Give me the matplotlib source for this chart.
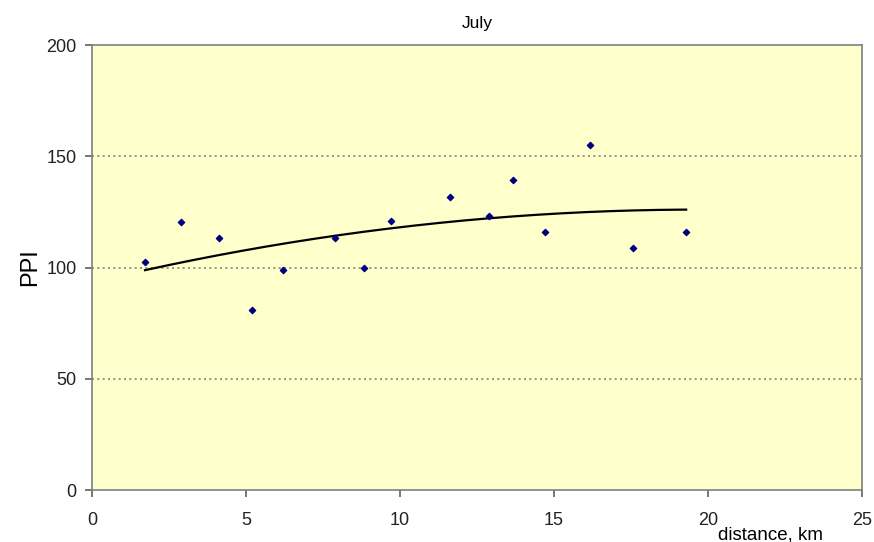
import numpy as np
import matplotlib
matplotlib.use("Agg")
import matplotlib.pyplot as plt

plt.rcParams["font.family"] = ["Liberation Sans", "DejaVu Sans"]

# July: PPI versus distance
distance = [1.72, 2.89, 4.12, 5.19, 6.20, 7.89, 8.83, 9.71, 11.62, 12.89,
            13.67, 14.71, 16.17, 17.56, 19.29]
ppi = [102.5, 120.4, 113.3, 80.9, 98.9, 113.3, 99.8, 120.9, 131.7, 123.1,
       139.3, 116.0, 155.0, 108.8, 116.0]

BG_COLOR    = "#FFFFCC"
POINT_COLOR = "#000080"
AXIS_COLOR  = "#808080"


def main():
    x = np.array(distance)
    y = np.array(ppi)

    fig = plt.figure(figsize=(8.74, 5.42), dpi=100)
    ax = fig.add_axes([0.1053, 0.0959, 0.881, 0.821])
    ax.set_facecolor(BG_COLOR)

    ax.scatter(x, y, marker="D", s=10, color=POINT_COLOR, zorder=4)

    # second order polynomial trendline (as in the spreadsheet)
    coef = np.polyfit(x, y, 2)
    xs = np.linspace(x.min(), x.max(), 200)
    ax.plot(xs, np.polyval(coef, xs), color="black", lw=1.6, zorder=3)

    ax.set_xlim(0, 25)
    ax.set_ylim(0, 200)
    ax.set_xticks([0, 5, 10, 15, 20, 25])
    ax.set_yticks([0, 50, 100, 150, 200])
    for yv in [50, 100, 150]:
        ax.axhline(yv, color="#808080", lw=1.2, linestyle=(0, (1.2, 2.0)), zorder=1)

    for side in ["left", "bottom", "top", "right"]:
        ax.spines[side].set_color(AXIS_COLOR)
        ax.spines[side].set_linewidth(1.2)
    ax.tick_params(direction="out", length=5, width=1.2, color="#606060",
                   labelsize=13, labelcolor="#222222", pad=6)
    ax.tick_params(axis="x", pad=11)

    ax.set_title("July", fontsize=12.5, pad=12)
    ax.set_ylabel("PPI", fontsize=17, labelpad=4)
    ax.text(0.881, -0.10, "distance, km", transform=ax.transAxes,
            fontsize=13.5, ha="center", va="center")

    fig.savefig("out.png", dpi=100)
    plt.close(fig)


if __name__ == "__main__":
    main()
